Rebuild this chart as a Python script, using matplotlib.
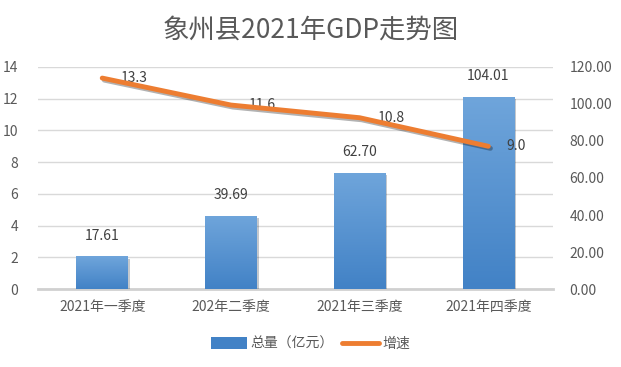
import numpy as np
import matplotlib
matplotlib.use("Agg")
import matplotlib.pyplot as plt
import matplotlib.patheffects as pe
from matplotlib.lines import Line2D
from matplotlib.patches import Patch

plt.rcParams['font.family'] = ['Noto Sans CJK SC', 'DejaVu Sans']

# data
quarters = ["2021年一季度", "202年二季度", "2021年三季度", "2021年四季度"]
totals = [17.61, 39.69, 62.70, 104.01]   # 总量（亿元），右轴
growth = [13.3, 11.6, 10.8, 9.0]          # 增速，左轴

grey = "#595959"
blue_top = "#6fa5db"
blue_bot = "#4282c6"
orange = "#ed7d31"

fig = plt.figure(figsize=(6.21, 3.67), dpi=100)
# host axis: left 0-14 scale and the gridlines
ax = fig.add_axes([0.061, 0.2125, 0.829, 0.605])
axb = ax.twinx()   # bars, right scale
axl = ax.twinx()   # line, left scale
x = np.arange(len(quarters))

ax.set_xlim(-0.5, 3.5)
ax.set_ylim(0, 14)
ax.set_yticks(np.arange(0, 15, 2))
ax.yaxis.tick_left()
ax.set_xticks(x)
ax.set_xticklabels(quarters)
ax.grid(axis="y", color="#d9d9d9", linewidth=1)
for s in ["top", "left", "right"]:
    ax.spines[s].set_visible(False)
ax.spines["bottom"].set_color("#d0d0d0")
ax.spines["bottom"].set_linewidth(2)
ax.tick_params(axis="x", length=0, labelsize=10, colors=grey, pad=8)
ax.tick_params(axis="y", length=0, labelsize=10, colors=grey, pad=14)

# bars on the 0-120 scale
bars = axb.bar(x, totals, width=0.4, color=blue_bot, zorder=2)
grad = np.linspace(0, 1, 100).reshape(-1, 1)
cmap = matplotlib.colors.LinearSegmentedColormap.from_list("b", [blue_bot, blue_top])
for b in bars:
    b.set_path_effects([pe.SimplePatchShadow(offset=(1.5, -1.5), alpha=0.25), pe.Normal()])
    im = axb.imshow(grad, cmap=cmap, origin="lower", aspect="auto", zorder=3,
                    extent=[b.get_x(), b.get_x() + b.get_width(), 0, b.get_height()])
    im.set_clip_path(b)
for xi, v in zip(x, totals):
    axb.annotate(f"{v:.2f}", (xi, v), xytext=(0, 10), textcoords="offset points",
                 ha="center", va="bottom", fontsize=10, color="#404040")
axb.set_xlim(-0.5, 3.5)
axb.set_ylim(0, 120)
axb.set_yticks(np.arange(0, 121, 20))
axb.set_yticklabels([f"{t:.2f}" for t in range(0, 121, 20)])
axb.yaxis.tick_right()
for s in axb.spines.values():
    s.set_visible(False)
axb.tick_params(axis="y", length=0, labelsize=10, colors=grey, pad=12)

# growth line on the 0-14 scale
axl.plot(x, growth, color=orange, linewidth=3.5, solid_capstyle="round",
         solid_joinstyle="round", zorder=4,
         path_effects=[pe.SimpleLineShadow(offset=(1.5, -1.5), alpha=0.3), pe.Normal()])
for xi, v in zip(x, growth):
    axl.annotate(f"{v:.1f}", (xi, v), xytext=(13, 0), textcoords="offset points",
                 ha="left", va="center", fontsize=10, color="#404040")
axl.set_xlim(-0.5, 3.5)
axl.set_ylim(0, 14)
axl.set_yticks([])
for s in axl.spines.values():
    s.set_visible(False)

fig.text(0.5, 0.918, "象州县2021年GDP走势图", ha="center", va="center",
         fontsize=19, color=grey, fontweight="medium")

handles = [Patch(facecolor=blue_bot, edgecolor="none"),
           Line2D([0], [0], color=orange, linewidth=3.5, solid_capstyle="round")]
fig.legend(handles, ["总量（亿元）", "增速"], loc="center", bbox_to_anchor=(0.5, 0.063),
           ncol=2, frameon=False, fontsize=10, labelcolor=grey,
           handlelength=2.6, handleheight=0.9, columnspacing=0.6, handletextpad=0.3)

fig.savefig("out.png", dpi=100)
